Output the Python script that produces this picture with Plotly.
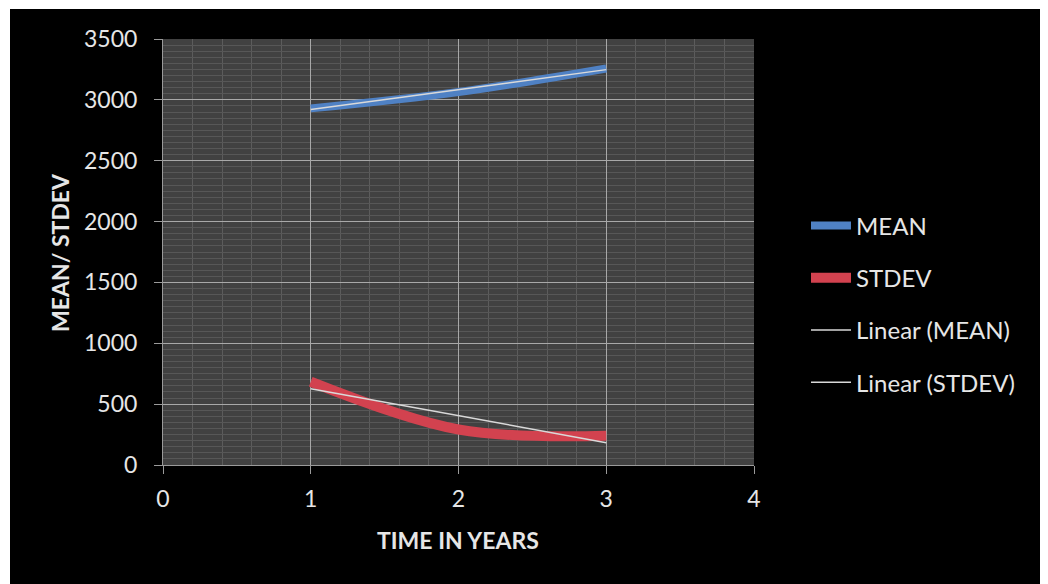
import numpy as np
import plotly.graph_objects as go

# ---- data ----
years = [1, 2, 3]
mean_vals = [2930, 3065, 3258]
stdev_vals = [684, 292, 240]
x_ticks = [0, 1, 2, 3, 4]
y_ticks = [0, 500, 1000, 1500, 2000, 2500, 3000, 3500]

# linear trend lines fitted from the data
def linfit(x, y):
    k, b = np.polyfit(x, y, 1)
    return [k * xi + b for xi in x]

mean_trend = linfit(years, mean_vals)
stdev_trend = linfit(years, stdev_vals)

FONT = "Lato"
TXT = "#e6e6e6"

fig = go.Figure()
fig.add_trace(go.Scatter(x=years, y=mean_vals, name="MEAN", mode="lines",
                         line=dict(color="#4f81c4", width=8, shape="spline", smoothing=1),
                         legendgroup="a"))
fig.add_trace(go.Scatter(x=years, y=stdev_vals, name="STDEV", mode="lines",
                         line=dict(color="#d2424f", width=10, shape="spline", smoothing=1),
                         legendgroup="b"))
fig.add_trace(go.Scatter(x=years, y=mean_trend, name="Linear (MEAN)", mode="lines",
                         line=dict(color="#d9d9d9", width=1.5), legendgroup="c"))
fig.add_trace(go.Scatter(x=years, y=stdev_trend, name="Linear (STDEV)", mode="lines",
                         line=dict(color="#d9d9d9", width=1.5), legendgroup="d"))

# the page body adds an 8px offset; work in screen pixels and convert
OFF = 8
W, H = 1048, 584
L, R, T, B = 163 - OFF, 754 - OFF, 39 - OFF, 465 - OFF
def px(p):
    return (p - OFF - L) / (R - L)
def py(p):
    return (B - (p - OFF)) / (B - T)

shapes = [
    dict(type="rect", xref="paper", yref="paper", x0=px(OFF), x1=px(10), y0=py(H + OFF), y1=py(OFF),
         fillcolor="white", line=dict(width=0), layer="below"),
    dict(type="rect", xref="paper", yref="paper", x0=px(OFF), x1=px(W + OFF), y0=py(9), y1=py(OFF),
         fillcolor="white", line=dict(width=0), layer="below"),
]

fig.update_layout(
    width=W, height=H, autosize=False,
    margin=dict(l=L, r=W - R, t=T, b=H - B, pad=0),
    paper_bgcolor="black", plot_bgcolor="#414141",
    font=dict(family=FONT, color=TXT, size=23),
    shapes=shapes,
    showlegend=True,
    legend=dict(x=px(806), y=py(304), xanchor="left", yanchor="middle",
                bgcolor="rgba(0,0,0,0)", font=dict(size=24, color=TXT, family=FONT),
                tracegroupgap=18, itemwidth=40),
    annotations=[
        dict(text="<b>TIME IN YEARS</b>", xref="paper", yref="paper", x=px(458), y=py(540),
             showarrow=False, font=dict(size=23, color=TXT, family=FONT),
             xanchor="center", yanchor="middle"),
        dict(text="<b>MEAN/ STDEV</b>", xref="paper", yref="paper", x=px(60), y=py(252),
             showarrow=False, textangle=-90, font=dict(size=23, color=TXT, family=FONT),
             xanchor="center", yanchor="middle"),
    ],
)

fig.update_xaxes(
    range=[0, 4], tickvals=x_ticks, ticktext=[str(v) for v in x_ticks],
    showgrid=True, gridcolor="#a8a8a8", gridwidth=1,
    minor=dict(dtick=0.2, showgrid=True, gridcolor="#5c5c5c", gridwidth=1),
    showline=True, linecolor="#9a9a9a", linewidth=1,
    ticks="outside", ticklen=8, tickcolor="#9a9a9a",
    ticklabelstandoff=5, zeroline=False, automargin=False,
    tickfont=dict(size=23, color=TXT, family=FONT),
)
fig.update_yaxes(
    range=[0, 3500], tickvals=y_ticks, ticktext=[str(v) for v in y_ticks],
    showgrid=True, gridcolor="#a8a8a8", gridwidth=1,
    minor=dict(dtick=50, showgrid=True, gridcolor="#575757", gridwidth=1),
    showline=True, linecolor="#9a9a9a", linewidth=1,
    ticks="outside", ticklen=8, tickcolor="#9a9a9a",
    ticklabelstandoff=12, zeroline=False, automargin=False,
    tickfont=dict(size=23, color=TXT, family=FONT),
)

fig.write_html("out.html")
